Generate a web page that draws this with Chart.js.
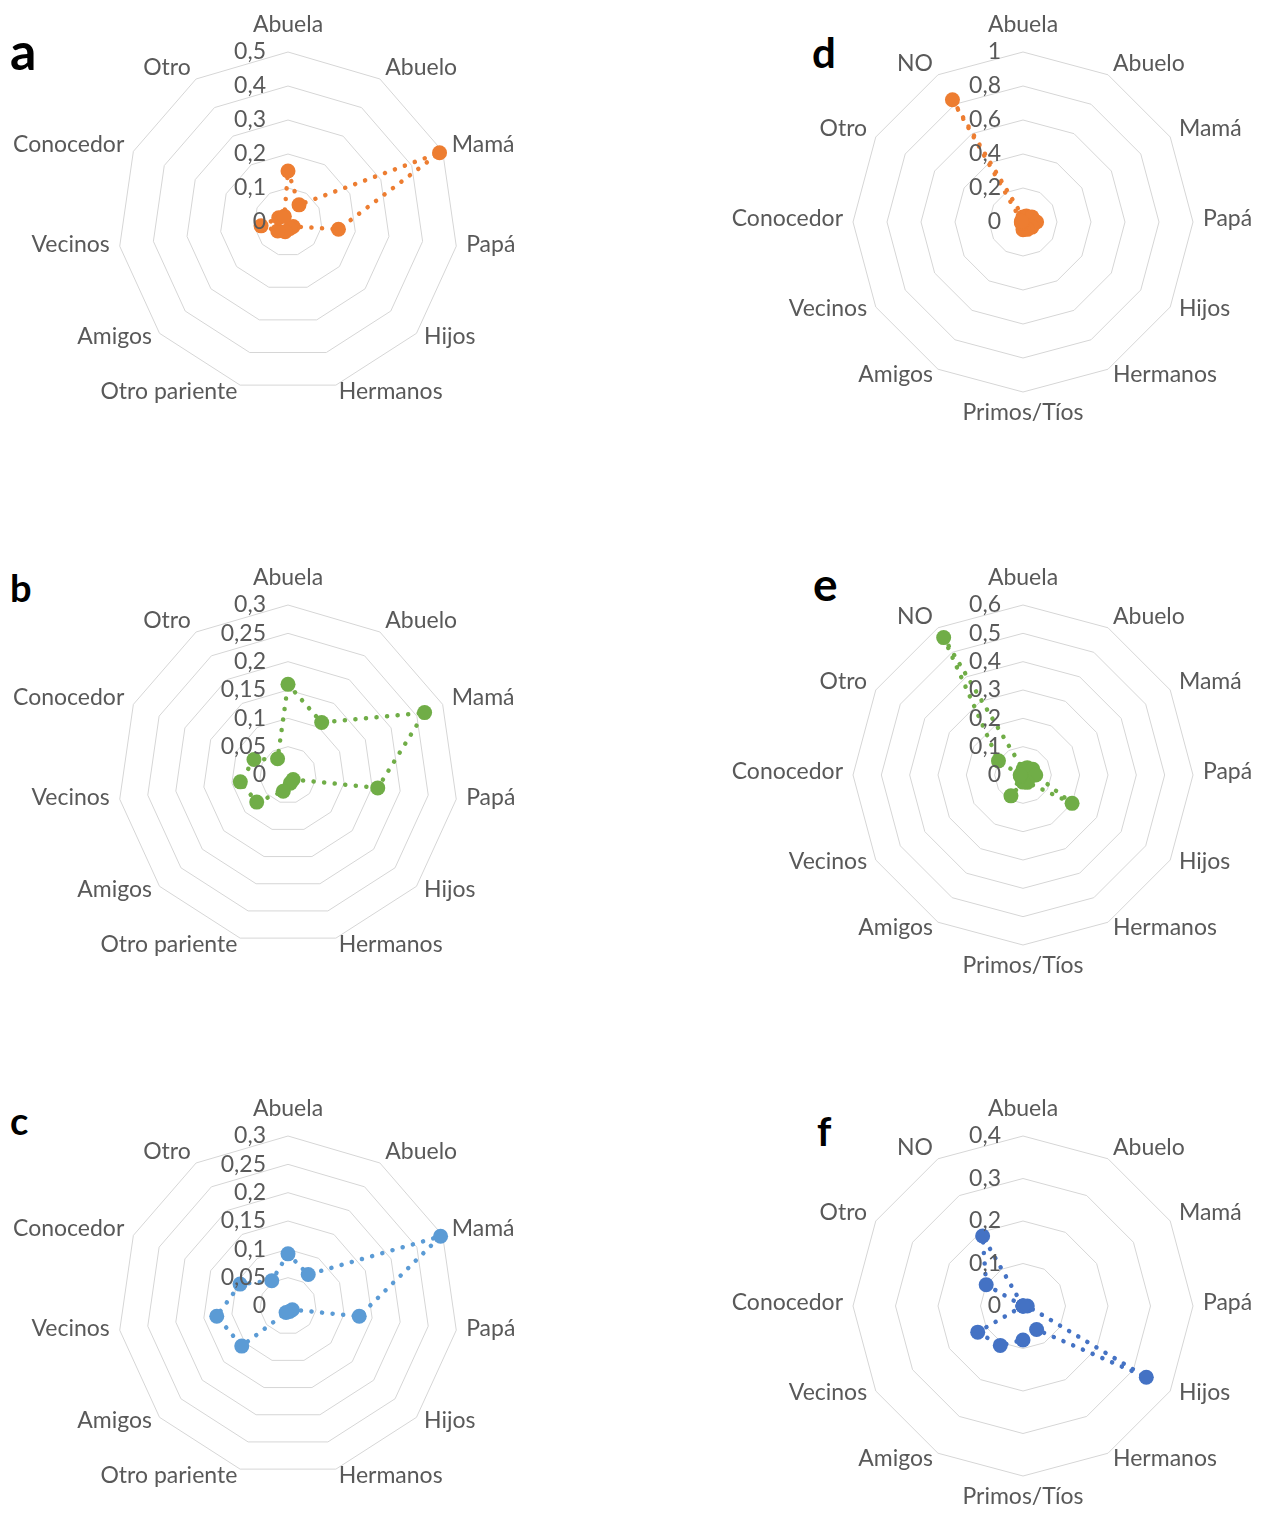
<!DOCTYPE html>
<html lang="es">
<head>
  <meta charset="UTF-8">
  <title>Radar charts a-f</title>
  <script src="https://cdn.jsdelivr.net/npm/chart.js"></script>
  <style>
    html, body { margin: 0; padding: 0; background: #fff; overflow: hidden; }
    body { width: 1267px; height: 1513px; position: relative; font-family: Lato, sans-serif; }
    canvas { position: absolute; }
    .tag { position: absolute; font-family: Lato, sans-serif; font-weight: bold; color: #000; line-height: 1; }
  </style>
</head>
<body>
  <div class="tag" style="left:10px;top:24px;font-size:52px">a</div>
  <div class="tag" style="left:10px;top:568px;font-size:38px">b</div>
  <div class="tag" style="left:10px;top:1101px;font-size:38px">c</div>
  <div class="tag" style="left:812px;top:31px;font-size:42px">d</div>
  <div class="tag" style="left:813px;top:561px;font-size:46px">e</div>
  <div class="tag" style="left:817px;top:1111px;font-size:40px">f</div>

  <canvas id="chartA" width="660" height="560" style="left:-42px;top:-58px"></canvas>
  <canvas id="chartB" width="660" height="560" style="left:-42px;top:495px"></canvas>
  <canvas id="chartC" width="660" height="560" style="left:-42px;top:1026px"></canvas>
  <canvas id="chartD" width="660" height="560" style="left:693px;top:-58px"></canvas>
  <canvas id="chartE" width="660" height="560" style="left:693px;top:495px"></canvas>
  <canvas id="chartF" width="660" height="560" style="left:693px;top:1026px"></canvas>

  <script>
    // categories
    const labelsLeft = ['Abuela', 'Abuelo', 'Mamá', 'Papá', 'Hijos', 'Hermanos', 'Otro pariente', 'Amigos', 'Vecinos', 'Conocedor', 'Otro'];
    const labelsRight = ['Abuela', 'Abuelo', 'Mamá', 'Papá', 'Hijos', 'Hermanos', 'Primos/Tíos', 'Amigos', 'Vecinos', 'Conocedor', 'Otro', 'NO'];

    // values
    const valuesA = [0.15, 0.06, 0.49, 0.15, 0.02, 0.02, 0.03, 0.04, 0.08, 0.03, 0.02];
    const valuesB = [0.16, 0.11, 0.265, 0.16, 0.012, 0.015, 0.03, 0.073, 0.085, 0.066, 0.034];
    const valuesC = [0.092, 0.066, 0.296, 0.127, 0.01, 0.01, 0.012, 0.108, 0.127, 0.093, 0.053];
    const valuesD = [0.03, 0.04, 0.06, 0.08, 0.06, 0.05, 0.045, 0.01, 0.01, 0.01, 0.01, 0.83];
    const valuesE = [0.02, 0.03, 0.04, 0.045, 0.2, 0.03, 0.025, 0.085, 0.01, 0.01, 0.1, 0.56];
    const valuesF = [0, 0, 0, 0.01, 0.335, 0.064, 0.08, 0.107, 0.123, 0, 0.1, 0.19];

    // axis range per chart: [max, step]
    const axisA = [0.5, 0.1];
    const axisB = [0.3, 0.05];
    const axisC = [0.3, 0.05];
    const axisD = [1, 0.2];
    const axisE = [0.6, 0.1];
    const axisF = [0.4, 0.1];

    const gray = '#595959';
    const labelFont = '23px Lato';

    function fmt(v) {
      return String(Math.round(v * 100) / 100).replace('.', ',');
    }

    // excel-style labels: value labels left of the vertical axis,
    // category labels centred vertically on their spoke
    const excelLabels = {
      id: 'excelLabels',
      afterDraw(chart) {
        const s = chart.scales.r;
        const ctx = chart.ctx;
        const n = chart.data.labels.length;
        ctx.save();
        ctx.font = labelFont;
        ctx.fillStyle = gray;
        ctx.textBaseline = 'middle';

        chart.data.labels.forEach((lab, i) => {
          const p = s.getPointPosition(i, s.drawingArea + 10);
          const ang = Math.round(360 * i / n);
          let y = p.y - 3;
          if (ang === 0) {
            ctx.textAlign = 'center';
            y = p.y - 17;
          } else if (ang === 180) {
            ctx.textAlign = 'center';
            y = p.y + 11;
          } else {
            ctx.textAlign = ang < 180 ? 'left' : 'right';
          }
          ctx.fillText(lab, p.x, y);
        });

        ctx.textAlign = 'right';
        s.ticks.forEach(t => {
          const d = s.getDistanceFromCenterForValue(t.value);
          ctx.fillText(fmt(t.value), s.xCenter - 22, s.yCenter - d);
        });
        ctx.restore();
      }
    };

    function drawRadar(id, labels, values, axis, color) {
      new Chart(document.getElementById(id), {
        type: 'radar',
        data: {
          labels: labels,
          datasets: [{
            data: values,
            borderColor: color,
            borderWidth: 4.5,
            borderDash: [0.1, 10.5],
            borderCapStyle: 'round',
            fill: false,
            tension: 0,
            pointRadius: 7.5,
            pointBackgroundColor: color,
            pointBorderColor: color,
            pointBorderWidth: 0
          }]
        },
        options: {
          responsive: false,
          animation: false,
          layout: { padding: { left: 160, right: 160, top: 110, bottom: 110 } },
          plugins: { legend: { display: false }, tooltip: { enabled: false } },
          scales: {
            r: {
              min: 0,
              max: axis[0],
              ticks: { stepSize: axis[1], display: false },
              grid: { color: '#d6d6d6', lineWidth: 1 },
              angleLines: { display: false },
              pointLabels: { display: false }
            }
          }
        },
        plugins: [excelLabels]
      });
    }

    drawRadar('chartA', labelsLeft, valuesA, axisA, '#ED7D31');
    drawRadar('chartB', labelsLeft, valuesB, axisB, '#70AD47');
    drawRadar('chartC', labelsLeft, valuesC, axisC, '#5B9BD5');
    drawRadar('chartD', labelsRight, valuesD, axisD, '#ED7D31');
    drawRadar('chartE', labelsRight, valuesE, axisE, '#70AD47');
    drawRadar('chartF', labelsRight, valuesF, axisF, '#4472C4');
  </script>
</body>
</html>
